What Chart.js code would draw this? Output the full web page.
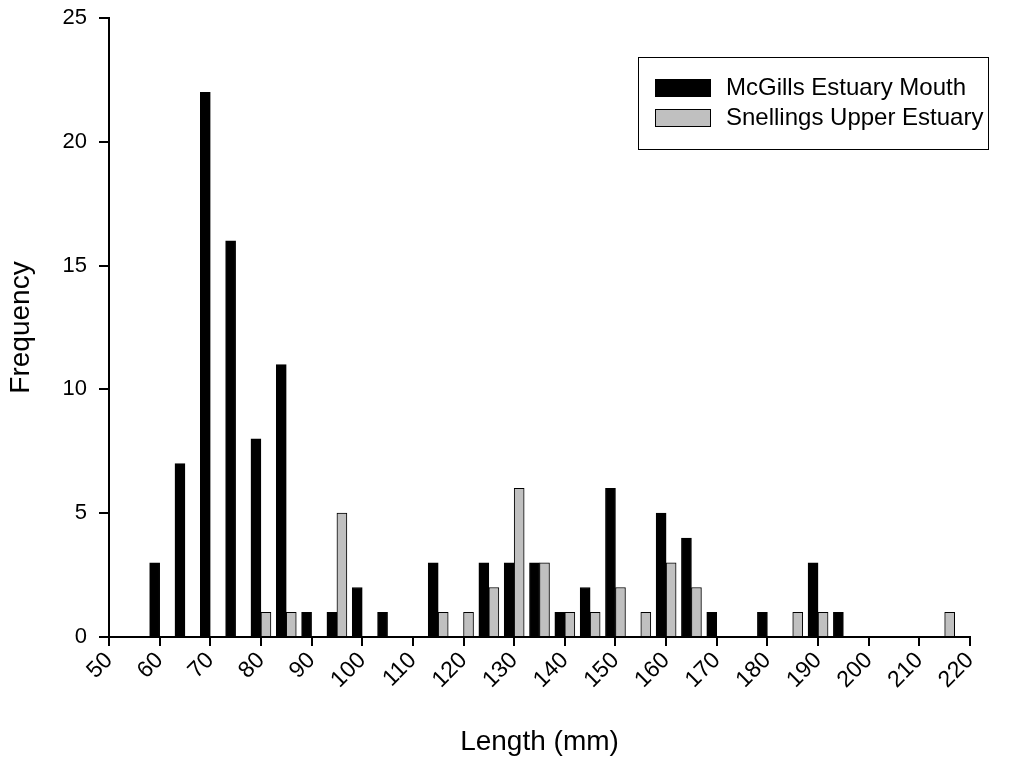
<!DOCTYPE html>
<html>
<head>
<meta charset="utf-8">
<title>Length frequency</title>
<script src="https://cdn.jsdelivr.net/npm/chart.js@4.4.1/dist/chart.umd.min.js"></script>
<style>
  body { margin: 0; background: #fff; }
  canvas { display: block; }
</style>
</head>
<body>
<canvas id="lengthChart" width="1011" height="763"></canvas>
<script>
// length bins (mm), one pair of bars per bin
const bins = [60, 65, 70, 75, 80, 85, 90, 95, 100, 105, 110, 115, 120, 125, 130, 135,
    140, 145, 150, 155, 160, 165, 170, 175, 180, 185, 190, 195, 200, 205, 210, 215];

const mcgills = [3, 7, 22, 16, 8, 11, 1, 1, 2, 1, 0, 3, 0, 3, 3, 3,
    1, 2, 6, 0, 5, 4, 1, 0, 1, 0, 3, 1, 0, 0, 0, 0];
const snellings = [0, 0, 0, 0, 1, 1, 0, 5, 0, 0, 0, 1, 1, 2, 6, 3,
    1, 1, 2, 1, 3, 2, 0, 0, 0, 1, 1, 0, 0, 0, 0, 1];

const xTickValues = [50, 60, 70, 80, 90, 100, 110, 120, 130, 140, 150, 160, 170, 180, 190, 200, 210, 220];
const yTickValues = [0, 5, 10, 15, 20, 25];

const FONT = '"Liberation Sans", Arial, sans-serif';

// skip empty bins so no zero-height bars get drawn
const toPoints = (vals) => bins.map((b, i) => ({ x: b, y: vals[i] || null }));

const data = {
    datasets: [{
        label: 'McGills Estuary Mouth',
        data: toPoints(mcgills),
        backgroundColor: '#000000',
        borderColor: '#000000',
        borderWidth: 1
    }, {
        label: 'Snellings Upper Estuary',
        data: toPoints(snellings),
        backgroundColor: '#c0c0c0',
        borderColor: '#000000',
        borderWidth: 1
    }]
};

// legend with a frame, drawn inside the plot
const boxLegend = {
    id: 'boxLegend',
    afterDraw(chart) {
        const ctx = chart.ctx;
        ctx.save();
        ctx.lineWidth = 1;
        ctx.strokeStyle = '#000';
        ctx.strokeRect(638.5, 57.5, 350, 92);
        ctx.font = '24px ' + FONT;
        ctx.textBaseline = 'middle';
        chart.data.datasets.forEach((ds, i) => {
            const y = 79 + i * 30;
            ctx.fillStyle = ds.backgroundColor;
            ctx.fillRect(655, y, 56, 18);
            ctx.strokeRect(655.5, y + 0.5, 55, 17);
            ctx.fillStyle = '#000';
            ctx.fillText(ds.label, 726, y + 9);
        });
        ctx.restore();
    }
};

const config = {
    type: 'bar',
    data: data,
    options: {
        responsive: false,
        animation: false,
        barThickness: 10,
        layout: {
            padding: { top: 18, right: 41, left: 0, bottom: 0 }
        },
        plugins: {
            legend: { display: false },
            tooltip: { enabled: false }
        },
        scales: {
            x: {
                type: 'linear',
                min: 50,
                max: 220,
                offset: false,
                afterBuildTicks: (scale) => { scale.ticks = xTickValues.map(v => ({ value: v })); },
                afterFit: (scale) => { scale.height = 126; },
                grid: {
                    offset: false,
                    drawOnChartArea: false,
                    drawTicks: true,
                    tickLength: 9,
                    lineWidth: 2,
                    color: '#000'
                },
                border: { display: true, color: '#000', width: 2 },
                ticks: {
                    minRotation: 45,
                    maxRotation: 45,
                    autoSkip: false,
                    padding: 1,
                    color: '#000',
                    font: { family: FONT, size: 23 }
                },
                title: {
                    display: true,
                    text: 'Length (mm)',
                    color: '#000',
                    font: { family: FONT, size: 28 },
                    padding: { top: 0, bottom: 4 }
                }
            },
            y: {
                min: 0,
                max: 25,
                afterBuildTicks: (scale) => { scale.ticks = yTickValues.map(v => ({ value: v })); },
                afterFit: (scale) => {
                    scale.width = 109;
                    scale.paddingTop = 0;
                },
                grid: {
                    drawOnChartArea: false,
                    drawTicks: true,
                    tickLength: 10,
                    lineWidth: 2,
                    color: '#000'
                },
                border: { display: true, color: '#000', width: 2 },
                ticks: {
                    padding: 12,
                    color: '#000',
                    font: { family: FONT, size: 22 }
                },
                title: {
                    display: true,
                    text: 'Frequency',
                    color: '#000',
                    font: { family: FONT, size: 28 },
                    padding: { top: 4, bottom: 0 }
                }
            }
        }
    },
    plugins: [boxLegend]
};

const lengthChart = new Chart(
    document.getElementById('lengthChart'),
    config
);
</script>
</body>
</html>
